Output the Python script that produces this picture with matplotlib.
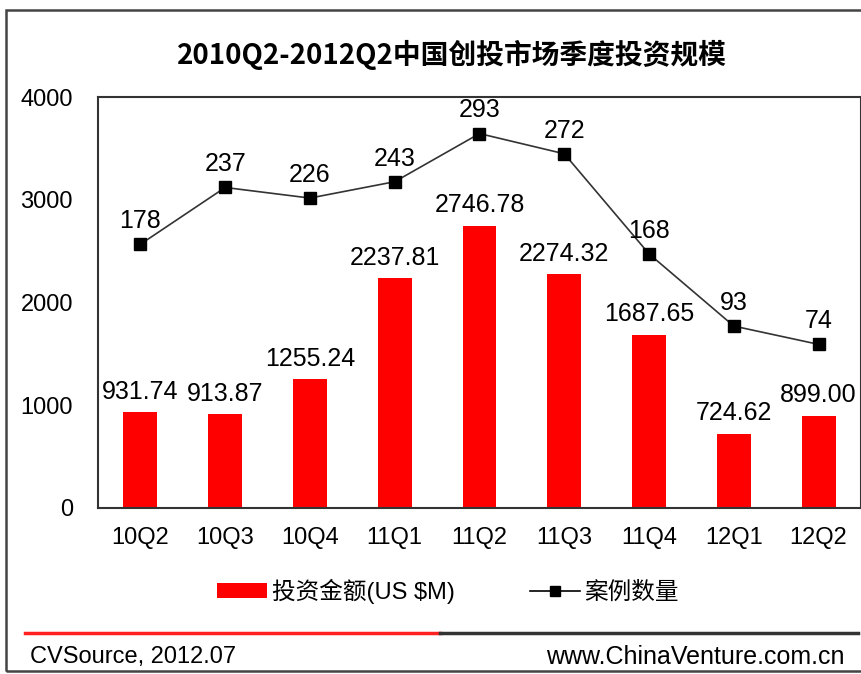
import matplotlib
matplotlib.use("Agg")
import matplotlib.pyplot as plt
from matplotlib.patches import Rectangle, Patch
from matplotlib.lines import Line2D
import numpy as np

plt.rcParams['font.family'] = ['Liberation Sans', 'Noto Sans CJK SC', 'DejaVu Sans']

categories = ['10Q2', '10Q3', '10Q4', '11Q1', '11Q2', '11Q3', '11Q4', '12Q1', '12Q2']
amounts = [931.74, 913.87, 1255.24, 2237.81, 2746.78, 2274.32, 1687.65, 724.62, 899.00]
deals = [178, 237, 226, 243, 293, 272, 168, 93, 74]
yticks = [0, 1000, 2000, 3000, 4000]

title = '2010Q2-2012Q2中国创投市场季度投资规模'
bar_name = '投资金额(US $M)'
line_name = '案例数量'
source_text = 'CVSource, 2012.07'
site_text = 'www.ChinaVenture.com.cn'

W, H = 862, 674
fig = plt.figure(figsize=(W / 100, H / 100), dpi=100)

def fx(px):
    return px / W

def fy(py):
    return 1 - py / H

# outer frame
fig.patches.append(Rectangle((fx(6), fy(671)), fx(900 - 6), fy(10) - fy(671),
                             transform=fig.transFigure, fill=False,
                             edgecolor='#444444', linewidth=1.8))

ax = fig.add_axes([fx(98), fy(508), fx(861 - 98), fy(97) - fy(508)])
x = np.arange(len(categories))
ax.bar(x, amounts, width=0.4, color='#ff0000', zorder=2)
ax.set_xlim(-0.5, len(categories) - 0.5)
ax.set_ylim(0, 4000)
ax.set_yticks(yticks)
ax.set_yticklabels([str(v) for v in yticks], fontsize=17)
ax.set_xticks(x)
ax.set_xticklabels(categories, fontsize=17)
ax.tick_params(axis='y', length=0, pad=18)
ax.tick_params(axis='x', length=0, pad=14)
for s in ax.spines.values():
    s.set_color('#333333')
    s.set_linewidth(1.5)

for xi, v in zip(x, amounts):
    ax.annotate(f'{v:.2f}', (xi, v), xytext=(0, 6), textcoords='offset points',
                ha='center', va='bottom', fontsize=18)

ax2 = ax.twinx()
ax2.plot(x, deals, color='#333333', linewidth=1.2, marker='s', markersize=8,
         markerfacecolor='black', markeredgecolor='black', zorder=3)
ax2.set_ylim(-96, 331)
ax2.set_yticks([])
for s in ax2.spines.values():
    s.set_visible(False)
for xi, v in zip(x, deals):
    ax2.annotate(str(v), (xi, v), xytext=(0, 8), textcoords='offset points',
                 ha='center', va='bottom', fontsize=18)

fig.text(fx(452), fy(55), title, ha='center', va='center', fontsize=20,
         fontweight='bold', family=['Noto Sans CJK SC', 'DejaVu Sans'])

handles = [Patch(facecolor='#ff0000', edgecolor='none'),
           Line2D([], [], color='black', linewidth=1.2, marker='s', markersize=7)]
fig.legend(handles, [bar_name, line_name], loc='center',
           bbox_to_anchor=(fx(448), fy(591)), ncol=2, frameon=False,
           fontsize=17, handlelength=2.1, handleheight=0.6, handletextpad=0.2,
           columnspacing=3.2)

fig.add_artist(Line2D([fx(25), fx(440)], [fy(633), fy(633)], color='#ff2020',
                      linewidth=2.5, transform=fig.transFigure))
fig.add_artist(Line2D([fx(440), fx(858)], [fy(633), fy(633)], color='#333333',
                      linewidth=2.5, transform=fig.transFigure))

fig.text(fx(30), fy(657), source_text, ha='left', va='center', fontsize=17)
fig.text(fx(845), fy(657), site_text, ha='right', va='center', fontsize=18)

fig.savefig('out.png', dpi=100)
